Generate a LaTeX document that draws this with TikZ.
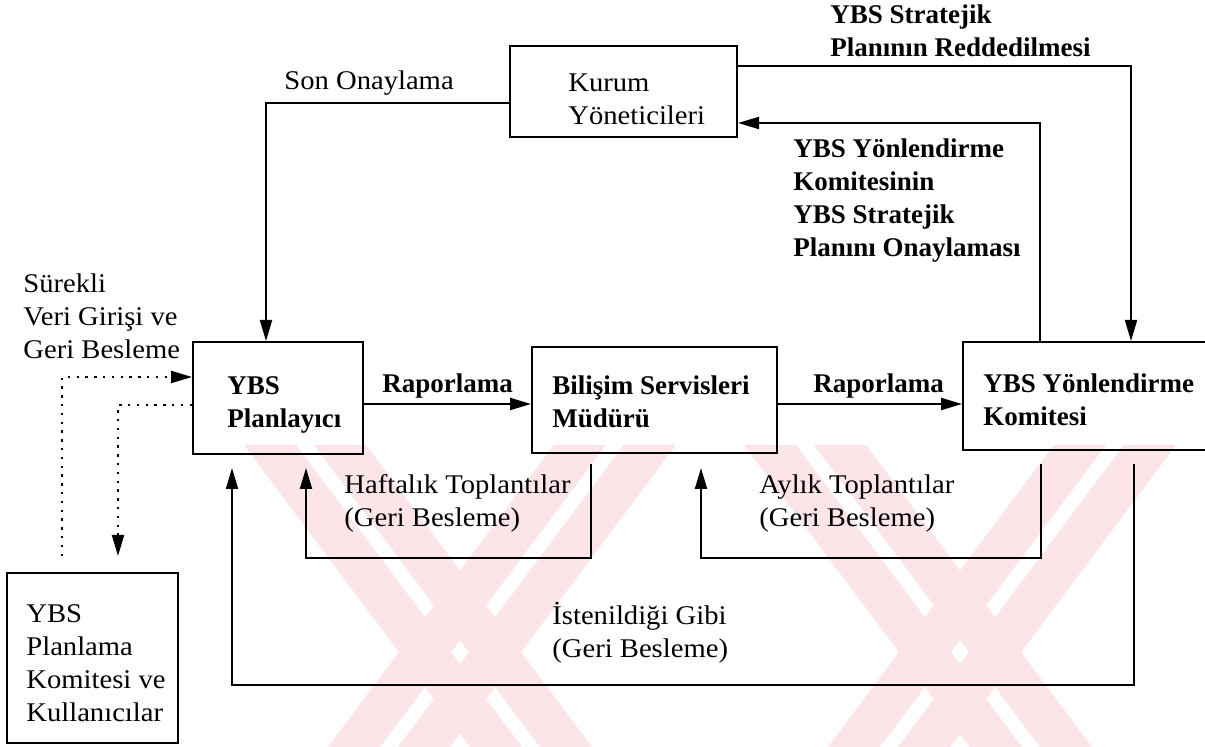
\documentclass[tikz,border=0pt]{standalone}
\usepackage{fontspec}
\setmainfont{Liberation Serif}
\newfontfamily\widefont[FakeStretch=1.06]{Liberation Serif}
\usetikzlibrary{arrows.meta}
\definecolor{stamp}{RGB}{252,229,233}
\begin{document}
\begin{tikzpicture}[x=0.5pt,y=-0.5pt,
  box/.style={draw, line width=1pt, inner sep=0pt},
  lbl/.style={anchor=base west, inner sep=0pt, align=left, font=\fontsize{13.5}{16.6}\selectfont\widefont},
  blbl/.style={lbl, font=\fontsize{13.5}{16.6}\selectfont\bfseries},
  link/.style={line width=1pt},
  arr/.style={link, -{Triangle[length=10.5pt,width=6pt]}},
  dotarr/.style={arr, dash pattern=on 1.2pt off 3.2pt}]
\useasboundingbox (0,0) rectangle (1205,747);
\clip (0,0) rectangle (1205,747);

% background stamp: two crosses, each arm made of a pair of diagonal bands
% (top centre of band, direction: +1 runs down-right, -1 runs down-left)
\foreach \c/\d in {270/1, 340/1, 580/-1, 650/-1, 770/1, 840/1, 1080/-1, 1150/-1} {
  \fill[stamp] (\c-26,445) -- (\c+26,445) -- (\c+26+\d*226,747) -- (\c-26+\d*226,747) -- cycle;
}

% boxes
\node[box, minimum width=113.5pt, minimum height=45.5pt] (kurum) at (623.5,91.5) {};
\node[box, minimum width=85pt, minimum height=56pt] (plan) at (278,398) {};
\node[box, minimum width=122.5pt, minimum height=53pt] (bilisim) at (654.5,400) {};
\node[box, minimum width=126pt, minimum height=54pt] (yonl) at (1089,396) {};
\node[box, minimum width=85.5pt, minimum height=85pt] (planlama) at (92.5,658) {};

% box texts (anchored at the baseline of their last line)
\node[lbl] (kurumT) at (568,125) {Kurum\\Yöneticileri};
\node[blbl] (planT) at (227,428) {YBS\\Planlayıcı};
\node[blbl] (bilT) at (552,428) {Bilişim Servisleri\\Müdürü};
\node[blbl] (yonlT) at (983,426) {YBS Yönlendirme\\Komitesi};
\node[lbl] (plnT) at (26,722) {YBS\\Planlama\\Komitesi ve\\Kullanıcılar};

% connector labels
\node[lbl] (sonT) at (284,90) {Son Onaylama};
\node[blbl] (redT) at (830,57) {YBS Stratejik\\Planının Reddedilmesi};
\node[blbl] (onayT) at (793,257) {YBS Yönlendirme\\Komitesinin\\YBS Stratejik\\Planını Onaylaması};
\node[lbl] (surekT) at (23,359) {Sürekli\\Veri Girişi ve\\Geri Besleme};
\node[blbl] (rap1) at (382,393) {Raporlama};
\node[blbl] (rap2) at (813,393) {Raporlama};
\node[lbl] (haftT) at (344,527) {Haftalık Toplantılar\\(Geri Besleme)};
\node[lbl] (aylT) at (759,527) {Aylık Toplantılar\\(Geri Besleme)};
\node[lbl] (istT) at (552,658) {İstenildiği Gibi\\(Geri Besleme)};

% approval and rejection paths
\draw[arr] ([yshift=-5.75pt]kurum.west) -| ([xshift=-6pt]plan.north);
\draw[arr] ([yshift=12.75pt]kurum.east) -| ([xshift=21pt]yonl.north);
\draw[arr] ([xshift=-24.5pt]yonl.north) |- ([yshift=-15.75pt]kurum.east);

% reporting
\draw[arr] ([yshift=-3pt]plan.east) coordinate (r1) -- (r1 -| bilisim.west);
\draw[arr] ([yshift=-2pt]bilisim.east) coordinate (r2) -- (r2 -| yonl.west);

% feedback loops
\draw[arr] ([xshift=-31.75pt,yshift=-5pt]bilisim.south) -- ++(0,94) -| ([xshift=14pt,yshift=-6.5pt]plan.south);
\draw[arr] ([xshift=-24pt,yshift=-6.5pt]yonl.south) -- ++(0,94) -| ([xshift=23.25pt,yshift=-7pt]bilisim.south);
\draw[arr] ([xshift=22.5pt,yshift=-6.5pt]yonl.south) -- ++(0,221) -| ([xshift=-23pt,yshift=-6.5pt]plan.south);

% continuous data input
\draw[dotarr] ([xshift=-15.25pt,yshift=8pt]planlama.north) |- ([yshift=10.5pt]plan.west);
\draw[dotarr] ([yshift=-3.5pt]plan.west) -| ([xshift=12.75pt,yshift=8pt]planlama.north);
\end{tikzpicture}
\end{document}
